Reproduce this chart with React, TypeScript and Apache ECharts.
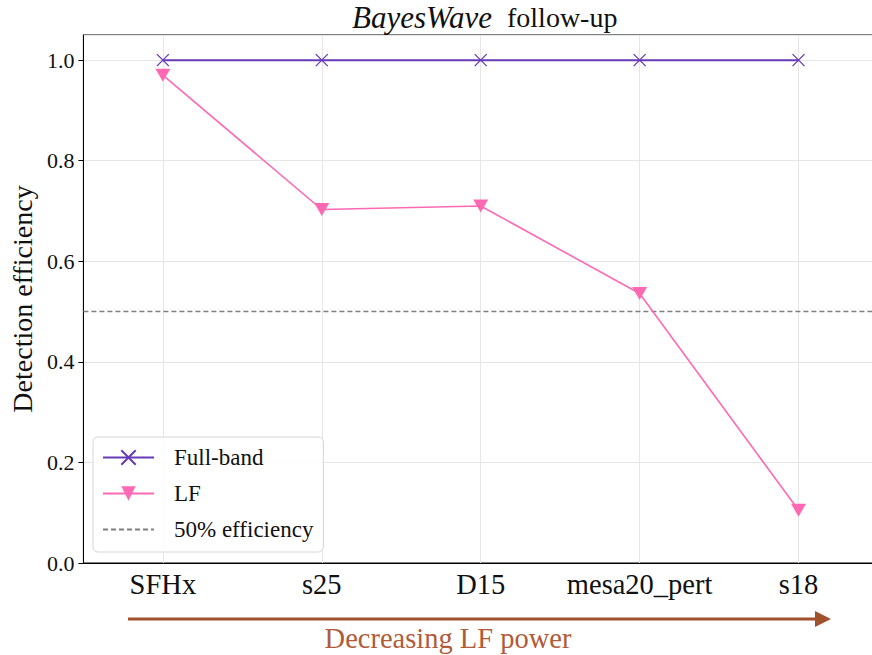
import React, { useEffect, useRef } from "react";
import * as echarts from "echarts";

const categories = ["SFHx", "s25", "D15", "mesa20_pert", "s18"];
const fullBand = [1.0, 1.0, 1.0, 1.0, 1.0];
const lf = [0.97, 0.703, 0.71, 0.536, 0.105];
const threshold = 0.5;
const seriesNames = ["Full-band", "LF", "50% efficiency"];

const FONT = "Liberation Serif";
const PURPLE = "#673ab7";
const PINK = "#ff69b4";
const SIENNA = "#a0522d";

export default function App() {
  const ref = useRef<HTMLDivElement>(null);
  useEffect(() => {
    if (!ref.current) return;
    const chart = echarts.init(ref.current, undefined, { renderer: "svg" });
    const crossPath = "path://M0,0L10,10M10,0L0,10";
    chart.setOption({
      animation: false,
      backgroundColor: "#ffffff",
      textStyle: { fontFamily: FONT },
      title: {
        text: "{i|BayesWave} follow-up",
        left: 352,
        top: 2,
        padding: 0,
        textStyle: {
          fontFamily: FONT,
          fontSize: 28,
          fontWeight: "normal",
          color: "#111",
          rich: {
            i: { fontFamily: FONT, fontSize: 31, fontStyle: "italic", color: "#111", padding: [0, 8, 0, 0] },
          },
        },
      },
      grid: {
        left: 81,
        top: 35,
        width: 797,
        height: 528,
        show: true,
        borderColor: "#000",
        borderWidth: 1,
        backgroundColor: "transparent",
        containLabel: false,
      },
      legend: {
        orient: "vertical",
        left: 93,
        top: 437,
        padding: [9, 10, 11, 9],
        itemWidth: 51,
        itemHeight: 18,
        itemGap: 13,
        backgroundColor: "rgba(255,255,255,0.85)",
        borderColor: "#d6d6d6",
        borderWidth: 1,
        borderRadius: 5,
        data: [
          { name: seriesNames[0] },
          { name: seriesNames[1] },
          { name: seriesNames[2], itemStyle: { opacity: 0 } },
        ],
        textStyle: {
          fontFamily: FONT,
          fontSize: 23,
          lineHeight: 22,
          color: "#111",
          padding: [0, 0, 0, 15],
        },
      },
      xAxis: [
        {
          type: "category",
          data: categories,
          boundaryGap: true,
          axisLine: { lineStyle: { color: "#000", width: 1 } },
          axisTick: { alignWithLabel: true, length: 5, lineStyle: { color: "#000" } },
          axisLabel: { interval: 0, fontFamily: FONT, fontSize: 28.5, color: "#111", margin: 7 },
          splitLine: { show: true, alignWithLabel: true, lineStyle: { color: "#e6e6e6", width: 1 } },
        },
        {
          type: "value",
          min: 0,
          max: 1,
          show: false,
          splitLine: { show: false },
        },
      ],
      yAxis: {
        type: "value",
        min: 0,
        max: 1.05,
        interval: 0.2,
        name: "Detection efficiency",
        nameLocation: "middle",
        nameRotate: 90,
        nameGap: 45,
        nameTextStyle: { fontFamily: FONT, fontSize: 28, color: "#111" },
        axisLine: { show: true, lineStyle: { color: "#000", width: 1 } },
        axisTick: { show: true, length: 5, lineStyle: { color: "#000" } },
        axisLabel: {
          fontFamily: FONT,
          fontSize: 22,
          color: "#111",
          margin: 9,
          showMaxLabel: false,
          formatter: (v: number) =>
            Math.abs(v * 5 - Math.round(v * 5)) < 1e-6 ? v.toFixed(1) : "",
        },
        splitLine: { show: true, lineStyle: { color: "#e6e6e6", width: 1 } },
      },
      series: [
        {
          name: seriesNames[0],
          type: "line",
          data: fullBand,
          symbol: crossPath,
          symbolSize: 12,
          lineStyle: { color: PURPLE, width: 2 },
          itemStyle: { color: PURPLE, borderColor: PURPLE, borderWidth: 1.3 },
          z: 3,
        },
        {
          name: seriesNames[1],
          type: "line",
          data: lf,
          symbol: "triangle",
          symbolRotate: 180,
          symbolSize: [15, 13],
          lineStyle: { color: PINK, width: 1.6 },
          itemStyle: { color: PINK, borderWidth: 0 },
          z: 4,
        },
        {
          name: seriesNames[2],
          type: "line",
          xAxisIndex: 1,
          data: [
            [0, threshold],
            [1, threshold],
          ],
          symbol: "none",
          lineStyle: { color: "#808080", width: 1.5, type: [5, 3] },
          itemStyle: { color: "#808080" },
          z: 2,
        },
      ],
      graphic: [
        {
          type: "line",
          shape: { x1: 128, y1: 619, x2: 817, y2: 619 },
          style: { stroke: SIENNA, lineWidth: 3 },
        },
        {
          type: "polygon",
          shape: { points: [[815, 611], [831, 619], [815, 627]] },
          style: { fill: SIENNA },
        },
        {
          type: "text",
          x: 448,
          y: 638,
          style: {
            text: "Decreasing LF power",
            fontFamily: FONT,
            fontSize: 28.5,
            fill: "#b05c3a",
            textAlign: "center",
            textVerticalAlign: "middle",
          },
        },
      ],
    });
    return () => chart.dispose();
  }, []);
  return (
    <div style={{ position: "fixed", left: 0, top: 0, width: 872, height: 655, overflow: "hidden", background: "#fff" }}>
      <div ref={ref} style={{ width: 882, height: 655 }} />
    </div>
  );
}
